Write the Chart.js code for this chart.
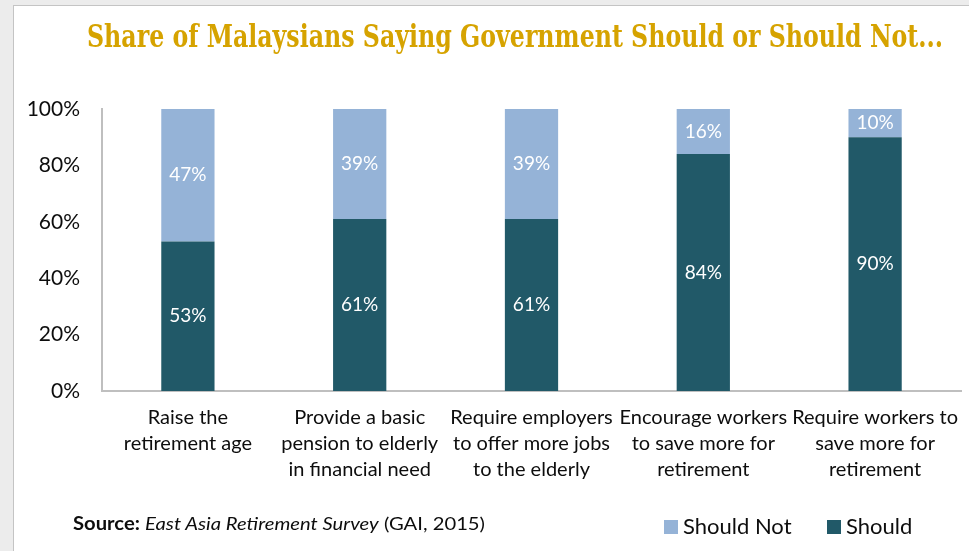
<!DOCTYPE html>
<html>
<head>
<meta charset="utf-8">
<script src="https://cdn.jsdelivr.net/npm/chart.js@4"></script>
<style>
    html, body { margin: 0; padding: 0; }
    body { width: 969px; height: 551px; background: #ececec; position: relative; overflow: hidden; font-family: Lato, "Open Sans", sans-serif; }
    #card { position: absolute; left: 13px; top: 5px; width: 1000px; height: 600px; background: #fff; border: 1px solid #c4c4c4; }
    #chart { position: absolute; left: 0; top: 0; }
    #title { position: absolute; left: 87px; top: 17px; white-space: nowrap; transform-origin: 0 0;
        font-family: "DejaVu Serif", serif; font-weight: bold; font-size: 32px; color: #d6a300; }
    #source { position: absolute; left: 73px; top: 512px; white-space: nowrap; transform-origin: 0 0; font-size: 18px; color: #0d0d0d; }
    #source b { font-weight: bold; }
    .legend { position: absolute; top: 512px; white-space: nowrap; font-size: 22px; color: #0d0d0d; }
    .legend span.box { display: inline-block; width: 14px; height: 14px; margin-right: 5px; vertical-align: 0px; }
</style>
</head>
<body>
<div id="card"></div>
<canvas id="chart" width="969" height="551"></canvas>
<div id="title">Share of Malaysians Saying Government Should or Should Not...</div>
<div id="source"><b>Source:</b> <i>East Asia Retirement Survey</i> (GAI, 2015)</div>
<div class="legend" style="left:664px"><span class="box" style="background:#95b3d7"></span>Should Not</div>
<div class="legend" style="left:827px"><span class="box" style="background:#215968"></span>Should</div>

<script>
// survey answers, percent of respondents
const categories = [
    ['Raise the', 'retirement age'],
    ['Provide a basic', 'pension to elderly', 'in financial need'],
    ['Require employers', 'to offer more jobs', 'to the elderly'],
    ['Encourage workers', 'to save more for', 'retirement'],
    ['Require workers to', 'save more for', 'retirement']
];
const shouldValues = [53, 61, 61, 84, 90];
const shouldNotValues = [47, 39, 39, 16, 10];
const yTicks = [0, 20, 40, 60, 80, 100];

// squeeze a text block to a given width
const fitWidth = (id, width) => {
    const el = document.getElementById(id);
    const w = el.getBoundingClientRect().width;
    el.style.transform = `scaleX(${width / w})`;
}
fitWidth('title', 856);
fitWidth('source', 412);

// write the percentage in the middle of each bar segment
const segmentLabels = {
    id: 'segmentLabels',
    afterDatasetsDraw(chart) {
        const ctx = chart.ctx;
        ctx.save();
        ctx.font = '19px Lato';
        ctx.fillStyle = '#ffffff';
        ctx.textAlign = 'center';
        ctx.textBaseline = 'middle';
        chart.data.datasets.forEach((ds, i) => {
            const meta = chart.getDatasetMeta(i);
            meta.data.forEach((bar, j) => {
                ctx.fillText(ds.data[j] + '%', bar.x, (bar.y + bar.base) / 2);
            });
        });
        ctx.restore();
    }
};

const ctx = document.getElementById('chart');
new Chart(ctx, {
    type: 'bar',
    data: {
        labels: categories,
        datasets: [{
            label: 'Should',
            data: shouldValues,
            backgroundColor: '#215968',
            barPercentage: 0.31,
            categoryPercentage: 1
        }, {
            label: 'Should Not',
            data: shouldNotValues,
            backgroundColor: '#95b3d7',
            barPercentage: 0.31,
            categoryPercentage: 1
        }]
    },
    options: {
        responsive: false,
        animation: false,
        layout: { padding: { top: 109, right: 8, left: 0, bottom: 0 } },
        plugins: {
            legend: { display: false },
            tooltip: { enabled: false }
        },
        scales: {
            x: {
                stacked: true,
                grid: { display: false, drawTicks: false },
                border: { display: true, color: '#bfbfbf', width: 2 },
                ticks: {
                    color: '#0d0d0d',
                    font: { family: 'Lato', size: 20, lineHeight: 1.3 },
                    padding: 14,
                    maxRotation: 0,
                    autoSkip: false
                },
                afterFit: (scale) => {
                    scale.height = 160;
                    // long last label should not shrink the plot
                    scale.paddingLeft = 0;
                    scale.paddingRight = 0;
                }
            },
            y: {
                stacked: true,
                min: 0,
                max: 100,
                afterBuildTicks: (scale) => { scale.ticks = yTicks.map(v => ({ value: v })); },
                grid: { display: false, drawTicks: false },
                border: { display: true, color: '#bfbfbf', width: 2 },
                ticks: {
                    color: '#0d0d0d',
                    font: { family: 'Lato', size: 21 },
                    padding: 22,
                    callback: (v) => v + '%'
                },
                afterFit: (scale) => { scale.width = 102; }
            }
        }
    },
    plugins: [segmentLabels]
});
</script>
</body>
</html>
